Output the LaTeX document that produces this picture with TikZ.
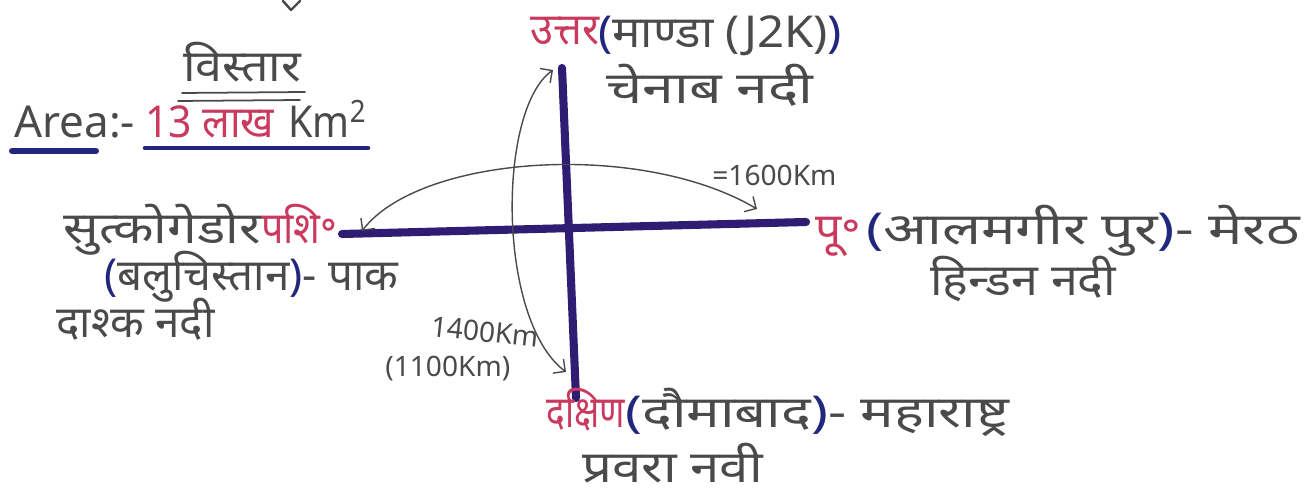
\documentclass[tikz,border=0pt]{standalone}
\usepackage{graphicx}
\usepackage{fontspec}
\setmainfont{Noto Sans}[Script=Devanagari]
\usetikzlibrary{arrows.meta}

\definecolor{inkgray}{HTML}{4A4A4A}
\definecolor{inkred}{HTML}{C93A5E}
\definecolor{inkblue}{HTML}{22277E}
\definecolor{axisblue}{HTML}{2E1D72}

\newcommand{\bkt}[1]{{\color{inkblue}\bfseries #1}}
\newcommand{\sx}[2]{\scalebox{#1}[1]{#2}}

\tikzset{
  lbl/.style={text=inkgray, font=\fontsize{25}{29}\selectfont, inner sep=0pt},
  dir/.style={lbl, text=inkred},
  dist/.style={lbl, font=\fontsize{16}{19}\selectfont},
  axis/.style={axisblue, line width=4.6pt},
  span/.style={inkgray, line width=0.8pt, {Straight Barb[length=5pt]}-{Straight Barb[length=5pt]}},
  uline/.style={inkblue, line width=2.6pt}
}

\begin{document}
\begin{tikzpicture}[x=0.02cm, y=-0.02cm, line cap=round, line join=round]

    \useasboundingbox (0,0) rectangle (1310,502);

    % Ends of the two axes
    \coordinate (N) at (562,68);
    \coordinate (S) at (576,398);
    \coordinate (W) at (342,234);
    \coordinate (E) at (806,222);

    % Ends of the distance arcs
    \coordinate (wtip) at (362,231);
    \coordinate (etip) at (757,209);
    \coordinate (ntip) at (553,70);
    \coordinate (stip) at (566,372);

    % Cut-off mark at the top
    \draw[inkgray, line width=1.4pt] (283,1) -- (291,10) -- (300,1);

    % Heading
    \node[lbl, anchor=base] (vistar) at (242,82) {\sx{1.1}{विस्तार}};
    \draw[inkgray, line width=1pt] (182,93) -- (305,92);
    \draw[inkgray, line width=1pt] (178,101) -- (300,100);

    % Area
    \node[lbl, anchor=base west] (area) at (14,138) {Area:-};
    \node[lbl, anchor=base west, text=inkred] (lakh) at (145,138) {\sx{0.93}{13 लाख}};
    \node[lbl, anchor=base west] (kmsq) at (288,138) {\sx{0.9}{Km\textsuperscript{2}}};
    \draw[uline, line width=3.4pt] (12,151) -- (96,151);
    \draw[uline] (145,148) -- (368,148);

    % Axes
    \draw[axis] (N) -- (S);
    \draw[axis] (W) -- (E);

    % Distance arcs
    \draw[span] (wtip) .. controls (420,155) and (640,140) .. (etip);
    \draw[span] (ntip) .. controls (497,110) and (497,320) .. (stip);
    \node[dist, anchor=base west] (ew) at (712,186) {=1600Km};
    \node[dist, anchor=base west, rotate=-6] (ns) at (430,336) {1400Km};
    \node[dist, anchor=base west] (nsb) at (385,377) {(1100Km)};

    % North
    \node[dir, anchor=base west] (uttar) at (530,45) {\sx{0.95}{उत्तर}};
    \node[lbl, anchor=base west] (manda) at (598,48) {\sx{1.08}{\bkt{(}माण्डा (J2K)\bkt{)}}};
    \node[lbl, anchor=base west] (chenab) at (606,104) {\sx{1.3}{चेनाब नदी}};

    % West
    \node[dir, anchor=base east] (pash) at (338,244) {\sx{0.9}{पशि॰}};
    \node[lbl, anchor=base east] (sutka) at (pash.base west) {\sx{1.2}{सुत्कोगेडोर}};
    \node[lbl, anchor=base west] (baluch) at (104,291) {\bkt{(}बलुचिस्तान\bkt{)}- पाक};
    \node[lbl, anchor=base west] (dasht) at (56,338) {दाश्क नदी};

    % East
    \node[dir, anchor=base west] (purv) at (815,245) {\sx{1.05}{पू॰}};
    \node[lbl, anchor=base west] (alam) at (866,245) {\sx{1.31}{\bkt{(}आलमगीर पुर\bkt{)}- मेरठ}};
    \node[lbl, anchor=base west] (hindan) at (930,296) {\sx{1.1}{हिन्डन नदी}};

    % South
    \node[dir, anchor=base west] (dakshin) at (546,428) {\sx{0.8}{दक्षिण}};
    \node[lbl, anchor=base west] (daula) at (625,428) {\sx{1.28}{\bkt{(}दौमाबाद\bkt{)}- महाराष्ट्र}};
    \node[lbl, anchor=base west] (pravara) at (582,482) {\sx{1.2}{प्रवरा नवी}};

\end{tikzpicture}
\end{document}
